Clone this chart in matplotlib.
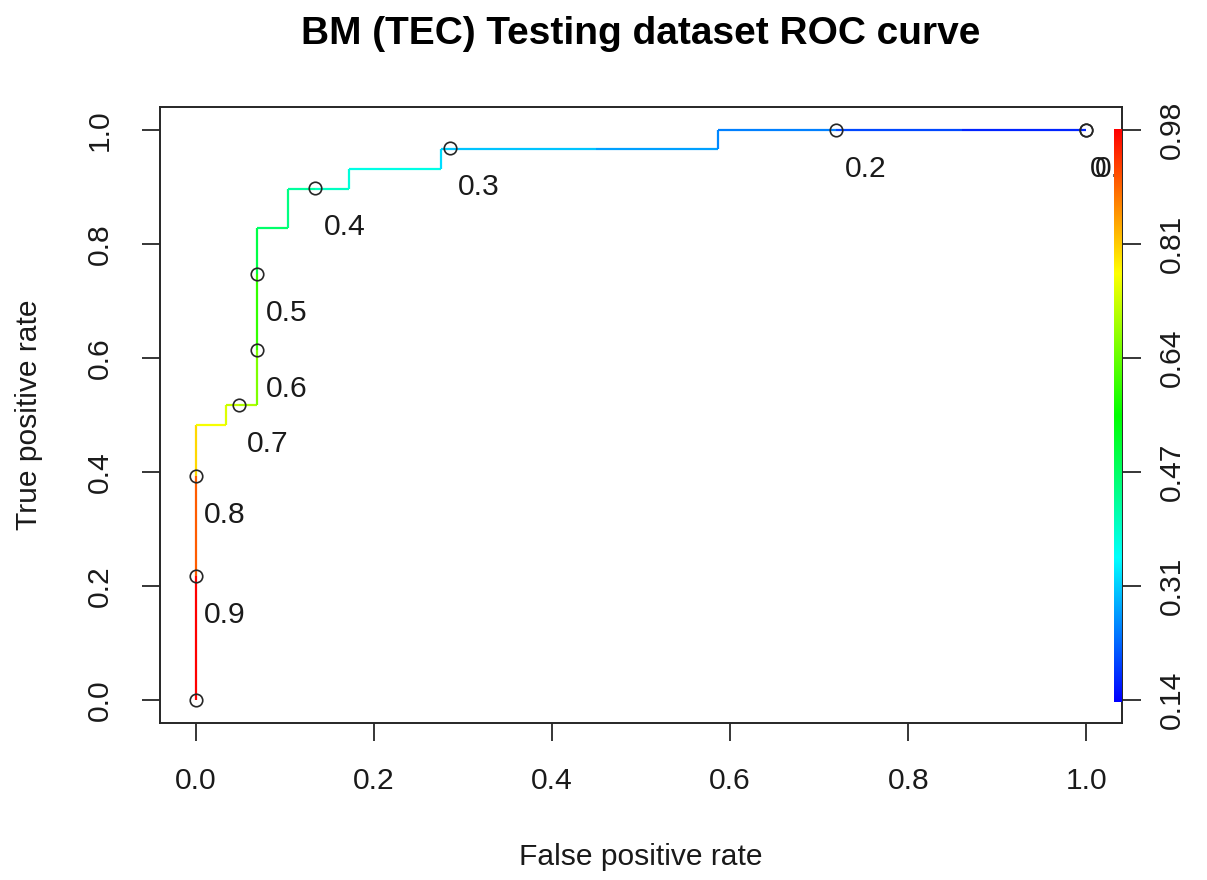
import numpy as np
import matplotlib
matplotlib.use("Agg")
import matplotlib.pyplot as plt
from matplotlib.collections import LineCollection
from matplotlib.colors import ListedColormap, Normalize, hsv_to_rgb

plt.rcParams['font.family'] = ['Liberation Sans', 'DejaVu Sans']

# --------------------------------------------
# ROC curve (step vertices) with the cutoff at each vertex
# --------------------------------------------
fpr = [0.0, 0.0, 0.0, 0.0, 0.0345, 0.0345, 0.0487, 0.069, 0.069, 0.069,
       0.069, 0.1034, 0.1034, 0.1345, 0.172, 0.172, 0.276, 0.276, 0.2854,
       0.45, 0.5865, 0.5865, 0.719, 0.86, 1.0]
tpr = [0.0, 0.217, 0.393, 0.483, 0.483, 0.517, 0.517, 0.517, 0.614, 0.747,
       0.828, 0.828, 0.897, 0.897, 0.897, 0.931, 0.931, 0.9655, 0.9655,
       0.9655, 0.9655, 1.0, 1.0, 1.0, 1.0]
cutoff = [0.978, 0.90, 0.80, 0.76, 0.74, 0.72, 0.70, 0.66, 0.60, 0.50,
          0.47, 0.45, 0.43, 0.40, 0.38, 0.37, 0.32, 0.31, 0.30,
          0.27, 0.25, 0.245, 0.20, 0.17, 0.138]

# cutoffs printed on the curve ("1" sits at the origin, its label falls outside)
mark_labels = ["1", "0.9", "0.8", "0.7", "0.6", "0.5", "0.4", "0.3", "0.2", "0.1", "0"]
mark_fpr = [0.0, 0.0, 0.0, 0.0487, 0.069, 0.069, 0.1345, 0.2854, 0.719, 1.0, 1.0]
mark_tpr = [0.0, 0.217, 0.393, 0.518, 0.614, 0.747, 0.8975, 0.968, 1.0, 1.0, 1.0]

# colour key on the right
cbar_labels = ["0.14", "0.31", "0.47", "0.64", "0.81", "0.98"]
cut_min, cut_max = 0.138, 0.978

axis_ticks = [0.0, 0.2, 0.4, 0.6, 0.8, 1.0]

# rainbow palette: blue (low cutoff) -> red (high cutoff)
hues = np.linspace(4 / 6, 0, 256)
rainbow = ListedColormap(hsv_to_rgb(np.column_stack([hues, np.ones(256), np.ones(256)])))
norm = Normalize(cut_min, cut_max)

W, H, DPI = 1207, 880, 100
fig = plt.figure(figsize=(W / DPI, H / DPI), dpi=DPI)
ax = fig.add_axes([160 / W, 1 - 723 / H, 962 / W, 616 / H])

FS = 21.6
EDGE = "#262626"

# coloured ROC segments
pts = np.column_stack([fpr, tpr])
segs = np.stack([pts[:-1], pts[1:]], axis=1)
lc = LineCollection(segs, colors=rainbow(norm(np.array(cutoff[:-1]))), linewidth=1.6,
                    zorder=2)
ax.add_collection(lc)

# cutoff markers and labels
ax.plot(mark_fpr, mark_tpr, linestyle="none", marker="o", markersize=9,
        markerfacecolor="none", markeredgecolor=EDGE, markeredgewidth=1.2, zorder=3)
em_px = FS * DPI / 72
for lab, x, y in zip(mark_labels, mark_fpr, mark_tpr):
    width = (0.556 * sum(c.isdigit() for c in lab) + 0.278 * lab.count(".")) * em_px
    ax.annotate(lab, (x, y), xytext=(0.2 * width, -47), textcoords="offset pixels",
                ha="left", va="baseline", fontsize=FS, color="#1a1a1a",
                annotation_clip=False, clip_on=True, zorder=3)

# colour bar drawn inside the plot region
grad = np.linspace(0, 1, 256)[:, None]
ax.imshow(grad, cmap=rainbow, origin="lower", aspect="auto",
          extent=[1.0315, 1.04, -0.003, 1.0], zorder=4, interpolation="bilinear")

ax.set_xlim(-0.04, 1.04)
ax.set_ylim(-0.04, 1.04)
ax.set_xticks(axis_ticks)
ax.set_yticks(axis_ticks)
ax.set_xticklabels([f"{t:.1f}" for t in axis_ticks])
ax.set_yticklabels([f"{t:.1f}" for t in axis_ticks], rotation=90, va="center")
ax.tick_params(axis="both", length=13, width=1.3, color=EDGE, labelsize=FS,
               labelcolor="#1a1a1a")
ax.tick_params(axis="x", pad=19)
ax.tick_params(axis="y", pad=20)
for s in ax.spines.values():
    s.set_color(EDGE)
    s.set_linewidth(1.4)

ax2 = ax.twinx()
ax2.set_ylim(ax.get_ylim())
ax2.set_yticks(np.linspace(0, 1, 6))
ax2.set_yticklabels(cbar_labels, rotation=90, va="center")
ax2.tick_params(axis="y", length=14, width=1.3, color=EDGE, labelsize=FS,
                labelcolor="#1a1a1a", pad=12)
for s in ax2.spines.values():
    s.set_visible(False)

cx = (160 + 1122) / 2 / W
fig.text(cx, 1 - 34 / H, "BM (TEC) Testing dataset ROC curve", ha="center", va="center",
         fontsize=28, fontweight="bold", color="#000000")
fig.text(cx, 1 - 857 / H, "False positive rate", ha="center", va="center",
         fontsize=FS, color="#1a1a1a")
fig.text(29 / W, 1 - 415 / H, "True positive rate", ha="center", va="center",
         rotation=90, fontsize=FS, color="#1a1a1a")

fig.savefig("out.png", dpi=DPI)
